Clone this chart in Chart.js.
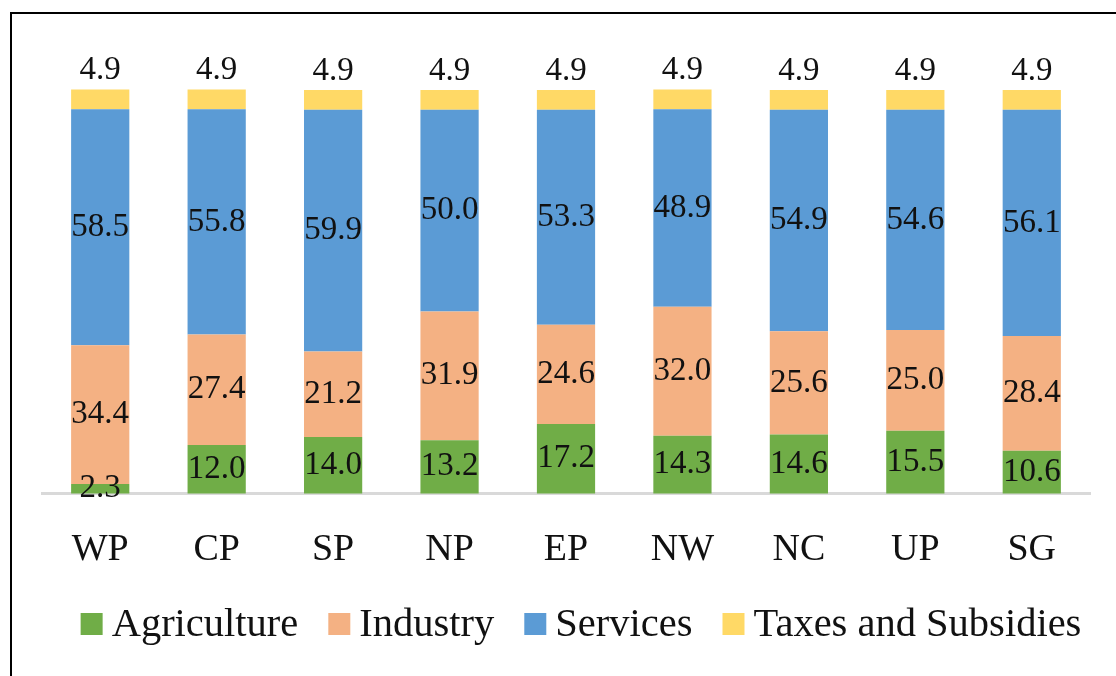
<!DOCTYPE html>
<html>
<head>
<meta charset="utf-8">
<script src="https://cdn.jsdelivr.net/npm/chart.js@4.4.1/dist/chart.umd.min.js"></script>
<style>
  html, body { margin: 0; padding: 0; background: #fff; }
  #wrap { position: relative; width: 1116px; height: 676px; overflow: hidden; }
  #frame { position: absolute; left: 10px; top: 12px; width: 1200px; height: 800px; border: 2px solid #000; box-sizing: border-box; }
  #chartCanvas { position: absolute; left: 0; top: 0; }
</style>
</head>
<body>
<div id="wrap">
  <div id="frame"></div>
  <canvas id="chartCanvas" width="1116" height="676"></canvas>
</div>
<script>
const regions = ["WP", "CP", "SP", "NP", "EP", "NW", "NC", "UP", "SG"];
const agriculture = [2.3, 12.0, 14.0, 13.2, 17.2, 14.3, 14.6, 15.5, 10.6];
const industry = [34.4, 27.4, 21.2, 31.9, 24.6, 32.0, 25.6, 25.0, 28.4];
const services = [58.5, 55.8, 59.9, 50.0, 53.3, 48.9, 54.9, 54.6, 56.1];
const taxes = [4.9, 4.9, 4.9, 4.9, 4.9, 4.9, 4.9, 4.9, 4.9];
const seriesNames = ["Agriculture", "Industry", "Services", "Taxes and Subsidies"];
const seriesColors = ["#70AD47", "#F4B183", "#5B9BD5", "#FFD966"];

const serif = "'Liberation Serif', 'DejaVu Serif', serif";

// etiquetas de valores dentro de cada segmento
const valueLabels = {
  id: "valueLabels",
  afterDatasetsDraw(chart) {
    const ctx = chart.ctx;
    ctx.save();
    ctx.font = "33px " + serif;
    ctx.fillStyle = "#111";
    ctx.textAlign = "center";
    ctx.textBaseline = "middle";
    chart.data.datasets.forEach((ds, i) => {
      const meta = chart.getDatasetMeta(i);
      meta.data.forEach((bar, j) => {
        const txt = ds.data[j].toFixed(1);
        if (i === chart.data.datasets.length - 1) {
          ctx.fillText(txt, bar.x, bar.y - 19);
        } else {
          ctx.fillText(txt, bar.x, (bar.y + bar.base) / 2);
        }
      });
    });
    ctx.restore();
  }
};

// leyenda dibujada a mano para controlar espacios
const customLegend = {
  id: "customLegend",
  afterDraw(chart) {
    const ctx = chart.ctx;
    ctx.save();
    ctx.font = "40.5px " + serif;
    ctx.textBaseline = "middle";
    const box = 22, gapText = 9, gapItem = 30;
    const widths = seriesNames.map(n => ctx.measureText(n).width);
    let total = 0;
    widths.forEach((w, i) => { total += box + gapText + w + (i < widths.length - 1 ? gapItem : 0); });
    let x = 581 - total / 2;
    const y = 624;
    seriesNames.forEach((n, i) => {
      ctx.fillStyle = seriesColors[i];
      ctx.fillRect(x, y - box / 2, box, box);
      ctx.fillStyle = "#111";
      ctx.fillText(n, x + box + gapText, y + 1);
      x += box + gapText + widths[i] + gapItem;
    });
    ctx.restore();
  }
};

function makeDataset(label, data, color) {
  return {
    label: label,
    data: data,
    backgroundColor: color,
    borderWidth: 0,
    barPercentage: 0.5,
    categoryPercentage: 1.0,
    clip: false
  };
}

const ctx = document.getElementById("chartCanvas").getContext("2d");
const chart = new Chart(ctx, {
  type: "bar",
  data: {
    labels: regions,
    datasets: [
      makeDataset(seriesNames[0], agriculture, seriesColors[0]),
      makeDataset(seriesNames[1], industry, seriesColors[1]),
      makeDataset(seriesNames[2], services, seriesColors[2]),
      makeDataset(seriesNames[3], taxes, seriesColors[3])
    ]
  },
  options: {
    responsive: false,
    animation: false,
    layout: { padding: { top: 90, left: 42, right: 26, bottom: 77 } },
    plugins: {
      legend: { display: false },
      tooltip: { enabled: false }
    },
    scales: {
      x: {
        stacked: true,
        grid: { display: false },
        border: { display: true, color: "#d9d9d9", width: 3 },
        ticks: { color: "#111", font: { family: serif, size: 38 }, padding: 26 }
      },
      y: {
        stacked: true,
        display: false,
        min: 0,
        max: 100
      }
    }
  },
  plugins: [valueLabels, customLegend]
});
</script>
</body>
</html>
